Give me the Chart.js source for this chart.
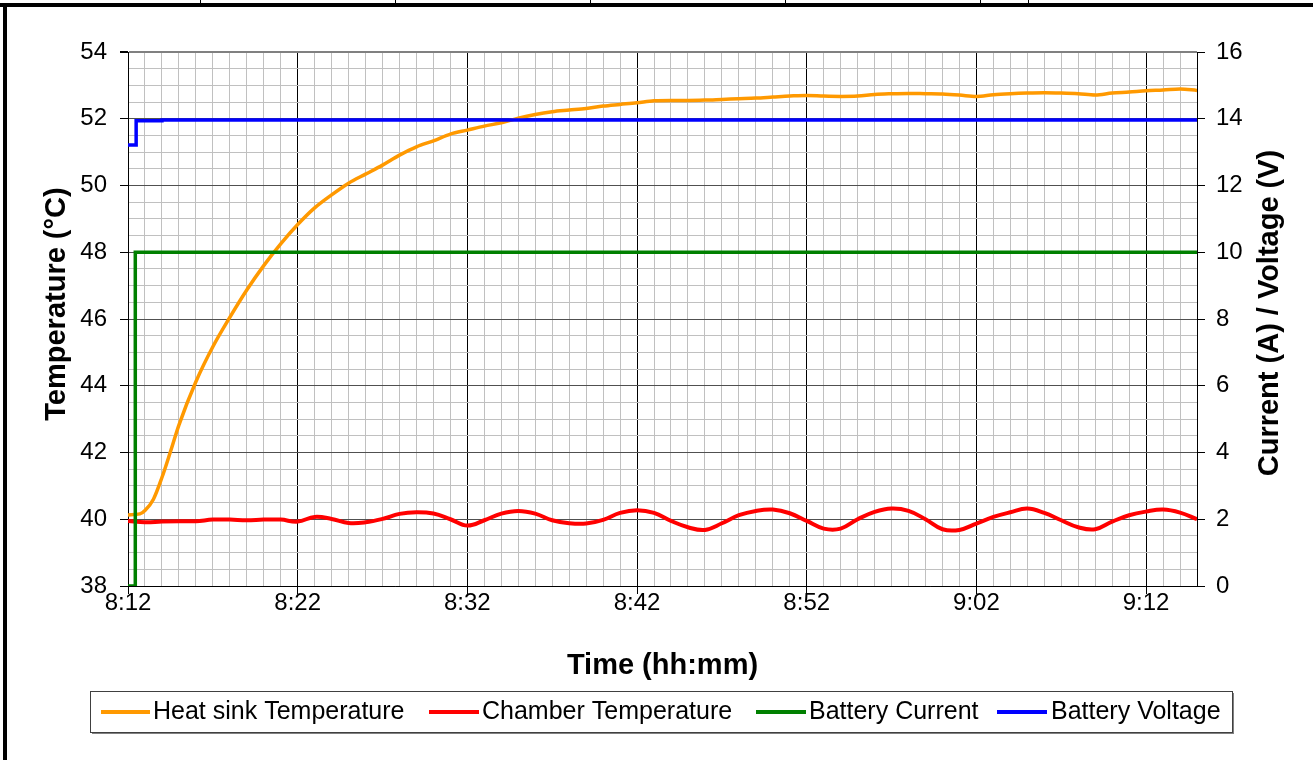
<!DOCTYPE html>
<html>
<head>
<meta charset="utf-8">
<script src="https://cdn.jsdelivr.net/npm/chart.js@4.4.1/dist/chart.umd.min.js"></script>
<style>
  html, body { margin: 0; padding: 0; background: #fff; }
  #wrap { position: absolute; left: 0; top: 0; width: 1313px; height: 760px; }
  .deco { position: absolute; background: #000; }
</style>
</head>
<body>
<div id="wrap"><canvas id="c" width="1313" height="760"></canvas></div>
<div class="deco" style="left:0;top:3px;width:1313px;height:4px;"></div>
<div class="deco" style="left:3px;top:3px;width:4px;height:757px;"></div>
<div class="deco" style="left:200px;top:0;width:1px;height:4px;"></div>
<div class="deco" style="left:395px;top:0;width:1px;height:4px;"></div>
<div class="deco" style="left:590px;top:0;width:1px;height:4px;"></div>
<div class="deco" style="left:785px;top:0;width:1px;height:4px;"></div>
<div class="deco" style="left:980px;top:0;width:1px;height:4px;"></div>
<div class="deco" style="left:1028px;top:0;width:1px;height:4px;"></div>
<script>
// ---- data (time = minutes after 8:12) ----
const timeTickOffsets = [0, 10, 20, 30, 40, 50, 60];
const timeTickLabels = ['8:12', '8:22', '8:32', '8:42', '8:52', '9:02', '9:12'];
const tempTicks = [38, 40, 42, 44, 46, 48, 50, 52, 54];
const elecTicks = [0, 2, 4, 6, 8, 10, 12, 14, 16];

const heatTimes = [0, 0.7, 1, 1.5, 2, 2.5, 3, 4, 5, 6, 7, 8, 9, 10, 11, 12, 13, 14, 15, 16, 17, 18, 19, 20,
  21, 22, 23, 24, 25, 26, 27, 28, 29, 30, 31, 32, 33, 34, 35, 36, 37, 38, 39, 40, 41, 42, 43, 44, 45,
  46, 47, 48, 49, 50, 51, 52, 53, 54, 55, 56, 57, 58, 59, 60, 61, 62, 63];
const heatValues = [40.13, 40.16, 40.26, 40.6, 41.25, 42.02, 42.82, 44.12, 45.17, 46.05, 46.87, 47.6, 48.25,
  48.83, 49.33, 49.72, 50.07, 50.34, 50.61, 50.91, 51.16, 51.34, 51.54, 51.66, 51.78, 51.88, 52.02, 52.13,
  52.21, 52.26, 52.31, 52.38, 52.43, 52.48, 52.54, 52.55, 52.55, 52.56, 52.58, 52.6, 52.62, 52.65, 52.68,
  52.7, 52.68, 52.67, 52.68, 52.73, 52.75, 52.76, 52.75, 52.74, 52.71, 52.67, 52.72, 52.75, 52.77, 52.78,
  52.77, 52.75, 52.71, 52.77, 52.8, 52.84, 52.86, 52.89, 52.85];

const chamberTimes = [0, 1, 2, 3, 4, 5, 6, 7, 8, 9, 10, 11, 12, 13, 14, 15, 16, 17, 18, 19, 20, 21,
  22, 23, 24, 25, 26, 27, 28, 29, 30, 31, 32, 33, 34, 35, 36, 37, 38, 39, 40, 41, 42, 43, 44, 45, 46,
  47, 48, 49, 50, 51, 52, 53, 54, 55, 56, 57, 58, 59, 60, 61, 62, 63];
const chamberValues = [39.95, 39.91, 39.93, 39.94, 39.94, 39.99, 39.99, 39.97, 39.99, 39.99, 39.93, 40.07,
  40.01, 39.89, 39.91, 40.01, 40.16, 40.21, 40.17, 40.0, 39.81, 39.97, 40.17, 40.25, 40.17, 39.97, 39.88,
  39.87, 39.98, 40.19, 40.27, 40.19, 39.95, 39.76, 39.68, 39.88, 40.12, 40.25, 40.29, 40.18, 39.95, 39.72,
  39.72, 40.0, 40.22, 40.32, 40.25, 40.0, 39.7, 39.68, 39.87, 40.07, 40.21, 40.32, 40.19, 39.97, 39.76,
  39.7, 39.93, 40.12, 40.23, 40.29, 40.2, 40.0];

const currentTimes = [0, 0.43, 0.43, 63];
const currentValues = [0, 0, 10, 10];

const voltageTimes = [0, 0.48, 0.48, 2.0, 2.0, 63];
const voltageValues = [13.21, 13.21, 13.94, 13.94, 13.96, 13.96];

const seriesNames = ['Heat sink Temperature', 'Chamber Temperature', 'Battery Current', 'Battery Voltage'];
const seriesColors = ['#FF9900', '#FF0000', '#008000', '#0000FF'];

const xMin = 0, xMax = 63;
const toPoints = (ts, vs) => ts.map((t, i) => ({ x: t, y: vs[i] }));
const range = (a, b, s) => { const r = []; for (let v = a; v <= b + 1e-9; v += s) r.push(Math.round(v * 100) / 100); return r; };

const FONT = "'Liberation Sans', Arial, sans-serif";
Chart.defaults.font.family = FONT;
Chart.defaults.color = '#000';

const decorPlugin = {
  id: 'decor',
  afterDraw(chart) {
    const ctx = chart.ctx;
    const ca = chart.chartArea;
    ctx.save();
    ctx.fillStyle = '#000';
    ctx.font = "bold 29px " + FONT;
    ctx.textAlign = 'center';
    ctx.textBaseline = 'middle';
    ctx.fillText('Time (hh:mm)', (ca.left + ca.right) / 2, 666);
    ctx.save();
    ctx.translate(57, 304);
    ctx.rotate(-Math.PI / 2);
    ctx.fillText('Temperature (°C)', 0, 0);
    ctx.restore();
    ctx.save();
    ctx.translate(1270, 313);
    ctx.rotate(-Math.PI / 2);
    ctx.fillText('Current (A) / Voltage (V)', 0, 0);
    ctx.restore();

    // legend box
    const bx = 90, by = 691, bw = 1142, bh = 41;
    ctx.fillStyle = '#808080';
    ctx.fillRect(bx + 2, by + 2, bw, bh);
    ctx.fillStyle = '#fff';
    ctx.fillRect(bx, by, bw, bh);
    ctx.strokeStyle = '#404040';
    ctx.lineWidth = 1;
    ctx.strokeRect(bx + 0.5, by + 0.5, bw, bh);
    const items = [
      { l1: 101, l2: 150, tx: 153 },
      { l1: 429, l2: 479, tx: 482 },
      { l1: 756, l2: 806, tx: 809 },
      { l1: 997, l2: 1047, tx: 1051 }
    ];
    const ly = 712;
    ctx.font = "25px " + FONT;
    ctx.textAlign = 'left';
    ctx.textBaseline = 'middle';
    items.forEach((it, i) => {
      ctx.strokeStyle = seriesColors[i];
      ctx.lineWidth = 4;
      ctx.beginPath();
      ctx.moveTo(it.l1, ly);
      ctx.lineTo(it.l2, ly);
      ctx.stroke();
      ctx.fillStyle = '#000';
      ctx.fillText(seriesNames[i], it.tx, ly);
    });
    ctx.restore();
  }
};

const isMajorX = v => timeTickOffsets.indexOf(v) >= 0 || v === xMax;

new Chart(document.getElementById('c'), {
  type: 'line',
  data: {
    datasets: [
      { label: seriesNames[0], data: toPoints(heatTimes, heatValues), borderColor: seriesColors[0], borderWidth: 3.5, yAxisID: 'yT', order: 3, cubicInterpolationMode: 'monotone' },
      { label: seriesNames[1], data: toPoints(chamberTimes, chamberValues), borderColor: seriesColors[1], borderWidth: 4, yAxisID: 'yT', order: 2, tension: 0.4 },
      { label: seriesNames[2], data: toPoints(currentTimes, currentValues), borderColor: seriesColors[2], borderWidth: 3.5, yAxisID: 'yE', order: 1, tension: 0 },
      { label: seriesNames[3], data: toPoints(voltageTimes, voltageValues), borderColor: seriesColors[3], borderWidth: 3.5, yAxisID: 'yE', order: 0, tension: 0 }
    ]
  },
  options: {
    responsive: false,
    animation: false,
    devicePixelRatio: 1,
    layout: { padding: { top: 52, left: 0, right: 0, bottom: 0 } },
    elements: { point: { radius: 0 }, line: { fill: false } },
    plugins: { legend: { display: false }, tooltip: { enabled: false } },
    scales: {
      x: {
        type: 'linear',
        min: xMin, max: xMax,
        afterBuildTicks: s => { s.ticks = range(xMin, xMax, 1).map(v => ({ value: v })); },
        afterFit: s => { s.height = 760 - 586; },
        ticks: {
          autoSkip: false, maxRotation: 0, minRotation: 0, padding: -5,
          font: { size: 24 },
          callback: v => { const i = timeTickOffsets.indexOf(v); return i >= 0 ? timeTickLabels[i] : ''; }
        },
        grid: {
          color: c => (c.tick && isMajorX(c.tick.value)) ? '#000' : '#c0c0c0',
          tickColor: c => (c.tick && timeTickOffsets.indexOf(c.tick.value) >= 0) ? '#000' : 'rgba(0,0,0,0)',
          tickLength: 8,
          lineWidth: 1
        },
        border: { color: '#000', width: 1 }
      },
      yT: {
        type: 'linear', position: 'left',
        min: 38, max: 54,
        afterBuildTicks: s => { s.ticks = range(38, 54, 0.5).map(v => ({ value: v })); },
        afterFit: s => { s.width = 128; },
        ticks: {
          autoSkip: false, padding: 13,
          font: { size: 24 },
          callback: v => tempTicks.indexOf(v) >= 0 ? String(v) : ''
        },
        grid: {
          color: c => {
            if (!c.tick) return '#c0c0c0';
            if (c.tick.value === 54) return '#808080';
            return tempTicks.indexOf(c.tick.value) >= 0 ? '#505050' : '#c0c0c0';
          },
          lineWidth: c => (c.tick && c.tick.value === 54) ? 2 : 1,
          tickColor: c => (c.tick && tempTicks.indexOf(c.tick.value) >= 0) ? '#000' : 'rgba(0,0,0,0)',
          tickLength: 8
        },
        border: { color: '#000', width: 1 }
      },
      yE: {
        type: 'linear', position: 'right',
        min: 0, max: 16,
        afterBuildTicks: s => { s.ticks = elecTicks.map(v => ({ value: v })); },
        afterFit: s => { s.width = 1313 - 1197; },
        ticks: { autoSkip: false, padding: 11, font: { size: 24 }, callback: v => String(v) },
        grid: { drawOnChartArea: false, tickColor: '#000', tickLength: 8 },
        border: { color: '#000', width: 1 }
      }
    }
  },
  plugins: [decorPlugin]
});
</script>
</body>
</html>
